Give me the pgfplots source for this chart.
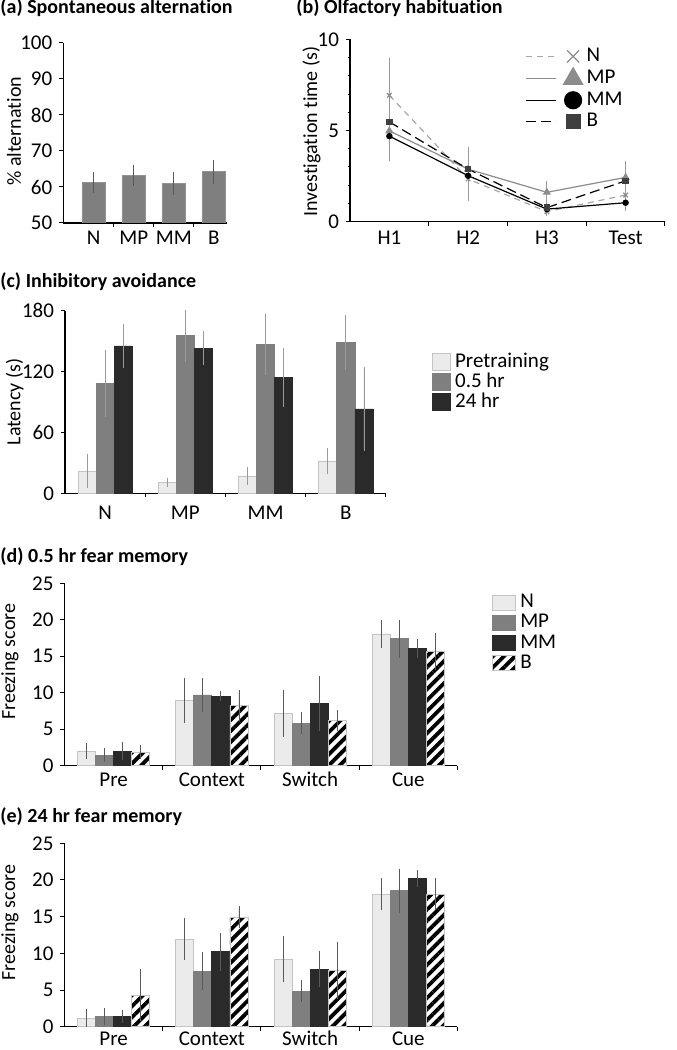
\documentclass[border=0pt]{standalone}
\usepackage{fontspec}
\setmainfont{Carlito}[Ligatures=NoCommon]
\usepackage{pgfplots}
\usepackage{pgfplotstable}
\pgfplotsset{compat=1.18}
\usetikzlibrary{patterns.meta}

\definecolor{cLight}{HTML}{EBEBEB}
\definecolor{cEdge}{HTML}{C4C4C4}
\definecolor{cMid}{HTML}{7F7F7F}
\definecolor{cDark}{HTML}{2A2A2A}
\definecolor{cErr}{HTML}{595959}
\definecolor{cErrL}{HTML}{9A9A9A}
\definecolor{cN}{HTML}{A6A6A6}
\definecolor{cMP}{HTML}{8C8C8C}
\definecolor{cB}{HTML}{3F3F3F}

% (a) spontaneous alternation
\pgfplotstableread{
x y e
0 61.3 2.4
1 63.3 2.4
2 61.0 2.6
3 64.2 2.8
}\dataA

% (b) olfactory habituation
\pgfplotstableread{
x N Ne MP MPe MM MMe B Be
0 6.93 1.92 4.98 1.30 4.69 1.28 5.47 1.00
1 2.34 1.10 2.88 1.13 2.52 1.28 2.88 0.95
2 0.55 0.15 1.61 0.50 0.69 0.20 0.77 0.30
3 1.46 0.35 2.43 0.80 1.04 0.37 2.24 0.60
}\dataB

% (c) inhibitory avoidance
\pgfplotstableread{
x Pre Pree Half Halfe Day Daye
0 22.0 14.8 108.4 31.0 145.2 20.0
1 10.8 2.8 156.0 24.5 143.2 15.0
2 17.1 7.2 146.8 28.3 114.3 27.0
3 31.9 11.0 148.5 25.3 83.1 40.0
}\dataC

% (d) 0.5 hr fear memory
\pgfplotstableread{
x N Ne MP MPe MM MMe B Be
0 2.01 0.80 1.42 0.70 2.01 1.05 1.83 0.73
1 8.91 2.80 9.69 2.05 9.55 0.50 8.23 1.85
2 7.18 3.00 5.85 1.25 8.55 3.50 6.22 1.20
3 18.06 1.72 17.42 2.36 16.02 1.04 15.65 2.27
}\dataD

% (e) 24 hr fear memory
\pgfplotstableread{
x N Ne MP MPe MM MMe B Be
0 1.18 0.95 1.36 0.90 1.36 0.64 4.32 3.30
1 11.95 2.66 7.59 2.36 10.23 2.36 14.91 1.23
2 9.18 2.90 4.86 1.23 7.82 2.23 7.68 3.68
3 18.07 1.97 18.52 2.77 20.15 0.90 18.07 1.95
}\dataE

\pgfplotsset{
  panel/.style={
    scale only axis, anchor=south west,
    axis x line*=bottom, axis y line*=left,
    axis line style={line width=0.7pt, black},
    tick align=outside,
    major tick length=2pt, minor tick length=1.2pt,
    tick style={line width=0.5pt, black},
    /pgf/number format/assume math mode=true,
    tick label style={font=\fontsize{10.5}{12}\selectfont},
    label style={font=\fontsize{10}{12}\selectfont},
    ylabel style={anchor=center},
    extra x tick style={major tick length=0pt},
    legend cell align=left,
    legend style={draw=none, fill=none, anchor=north west, inner sep=0pt,
      font=\fontsize{10.5}{12}\selectfont,
      nodes={inner ysep=0pt, inner xsep=2pt, text height=7.5pt, text depth=2.5pt}},
  },
  xlab/.style={x tick label style={anchor=base, yshift=-#1}},
  groups/.style={xtick={0.5,1.5,2.5,3.5}, xticklabels={,,,},
    extra x ticks={0,1,2,3}, extra x tick labels={#1}},
  ebar/.style={/pgfplots/error bars/y dir=both, /pgfplots/error bars/y explicit,
    /pgfplots/error bars/error bar style={solid, #1, line width=0.4pt},
    /pgfplots/error bars/error mark options={solid, #1, mark size=0.9pt, line width=0.4pt}},
  barlegend/.style 2 args={legend image code/.code={\draw[##1] (0pt,-#2/2) rectangle (#1,#2/2);}},
  linelegend/.style={legend image code/.code={%
    \draw[##1, mark=none] (0pt,0pt) -- (15pt,0pt);
    \draw[##1, solid, mark size=#1] plot coordinates {(23.5pt,0pt)};}},
  stripes/.style={fill=white, draw=cEdge, line width=0.4pt,
    postaction={pattern={Lines[angle=45, distance=3.9pt, line width=1.9pt]}, pattern color=black}},
}

\begin{document}
\begin{tikzpicture}
\useasboundingbox (0pt,0pt) rectangle (338pt,525pt);
\tikzset{ttl/.style={anchor=base west, inner sep=0pt, font=\bfseries\fontsize{10}{12}\selectfont}}
\node[ttl] at (0pt,518.3pt) {(a) Spontaneous alternation};
\node[ttl] at (148pt,518.3pt) {(b) Olfactory habituation};
\node[ttl] at (0pt,381pt) {(c) Inhibitory avoidance};
\node[ttl] at (0pt,243.6pt) {(d) 0.5 hr fear memory};
\node[ttl] at (0pt,113.6pt) {(e) 24 hr fear memory};

% (a)
\begin{axis}[panel, at={(31.65pt,413.5pt)}, width=81.7pt, height=90pt,
  xmin=-0.76, xmax=3.32, ymin=50, ymax=100, ytick={50,60,...,100},
  groups={N,MP,MM,B}, xtick={0.5,1.5,2.5}, xticklabels={,,}, xlab=11pt,
  ybar, bar width=0.575,
  ylabel={\% alternation}, ylabel style={at={(axis description cs:-0.302,0.51)}}]
\addplot[fill=cMid, draw=cMid!85!white, line width=0.4pt, ebar=cErr]
  table[x=x, y=y, y error=e] {\dataA};
\end{axis}

% (b)
\begin{axis}[panel, at={(175pt,414.15pt)}, width=157.5pt, height=91.2pt,
  xmin=-0.5, xmax=3.5, ymin=0, ymax=10, ytick={0,5,10},
  minor ytick={1,2,3,4,6,7,8,9},
  groups={H1,H2,H3,Test}, xlab=11.6pt,
  ylabel={Investigation time (s)}, ylabel style={at={(axis description cs:-0.122,0.494)}},
  legend style={at={(0.556,0.963)}, row sep=0.7pt}]
\addplot[cN, line width=0.6pt, dash pattern=on 3pt off 2.5pt, mark=x, mark size=1.6pt,
  mark options={solid, cMP}, ebar=cErrL, linelegend=4.25pt]
  table[x=x, y=N, y error=Ne] {\dataB};
\addlegendentry{N}
\addplot[cMP, line width=0.6pt, mark=triangle*, mark size=1.8pt,
  mark options={solid, cMP}, ebar=cErrL, linelegend=5.5pt]
  table[x=x, y=MP, y error=MPe] {\dataB};
\addlegendentry{MP}
\addplot[black, line width=0.6pt, mark=*, mark size=1.3pt,
  mark options={solid, black}, ebar=cErrL, linelegend=4.25pt]
  table[x=x, y=MM, y error=MMe] {\dataB};
\addlegendentry{MM}
\addplot[black, line width=0.6pt, dash pattern=on 5pt off 2.5pt, mark=square*, mark size=1.3pt,
  mark options={solid, cB}, ebar=cErrL, linelegend=3.5pt]
  table[x=x, y=B, y error=Be] {\dataB};
\addlegendentry{B}
\end{axis}

% (c)
\begin{axis}[panel, at={(32.5pt,278.35pt)}, width=160.5pt, height=91.3pt,
  xmin=-0.5, xmax=3.5, ymin=0, ymax=180, ytick={0,60,120,180},
  groups={N,MP,MM,B}, xlab=13.3pt,
  ybar=0pt, bar width=0.225,
  ylabel={Latency (s)}, ylabel style={at={(axis description cs:-0.157,0.5)}},
  legend style={at={(1.143,0.774)}, row sep=0pt}]
\addplot[fill=cLight, draw=cEdge, line width=0.4pt, ebar=cErrL, barlegend={9pt}{8.5pt}]
  table[x=x, y=Pre, y error=Pree] {\dataC};
\addlegendentry{Pretraining}
\addplot[fill=cMid, draw=cMid, line width=0.4pt, ebar=cErrL, barlegend={9pt}{8.5pt}]
  table[x=x, y=Half, y error=Halfe] {\dataC};
\addlegendentry{0.5 hr}
\addplot[fill=cDark, draw=cDark, line width=0.4pt, ebar=cErrL, barlegend={9pt}{8.5pt}]
  table[x=x, y=Day, y error=Daye] {\dataC};
\addlegendentry{24 hr}
\end{axis}

% (d)
\begin{axis}[panel, at={(32.25pt,142.15pt)}, width=196.5pt, height=91.2pt,
  xmin=-0.5, xmax=3.5, ymin=0, ymax=25, ytick={0,5,...,25},
  groups={Pre,Context,Switch,Cue}, xlab=10.5pt,
  ybar=0pt, bar width=0.1837,
  ylabel={Freezing score}, ylabel style={at={(axis description cs:-0.139,0.57)}},
  legend style={at={(1.088,0.952)}, row sep=0.15pt}]
\addplot[fill=cLight, draw=cEdge, line width=0.4pt, ebar=cErr, barlegend={11.5pt}{7.5pt}]
  table[x=x, y=N, y error=Ne] {\dataD};
\addlegendentry{N}
\addplot[fill=cMid, draw=cMid, line width=0.4pt, ebar=cErr, barlegend={11.5pt}{7.5pt}]
  table[x=x, y=MP, y error=MPe] {\dataD};
\addlegendentry{MP}
\addplot[fill=cDark, draw=cDark, line width=0.4pt, ebar=cErr, barlegend={11.5pt}{7.5pt}]
  table[x=x, y=MM, y error=MMe] {\dataD};
\addlegendentry{MM}
\addplot[stripes, ebar=cErr, barlegend={11.5pt}{7.5pt}]
  table[x=x, y=B, y error=Be] {\dataD};
\addlegendentry{B}
\end{axis}

% (e)
\begin{axis}[panel, at={(32.25pt,11.65pt)}, width=196.5pt, height=91.7pt,
  xmin=-0.5, xmax=3.5, ymin=0, ymax=25, ytick={0,5,...,25},
  groups={Pre,Context,Switch,Cue}, xlab=9.6pt,
  ybar=0pt, bar width=0.1837,
  ylabel={Freezing score}, ylabel style={at={(axis description cs:-0.139,0.567)}}]
\addplot[fill=cLight, draw=cEdge, line width=0.4pt, ebar=cErr]
  table[x=x, y=N, y error=Ne] {\dataE};
\addplot[fill=cMid, draw=cMid, line width=0.4pt, ebar=cErr]
  table[x=x, y=MP, y error=MPe] {\dataE};
\addplot[fill=cDark, draw=cDark, line width=0.4pt, ebar=cErr]
  table[x=x, y=MM, y error=MMe] {\dataE};
\addplot[stripes, ebar=cErr]
  table[x=x, y=B, y error=Be] {\dataE};
\end{axis}
\end{tikzpicture}
\end{document}
